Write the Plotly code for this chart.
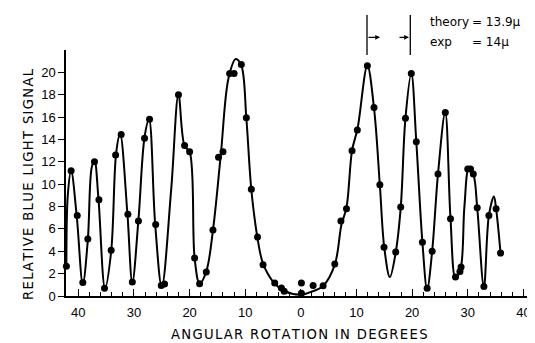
import plotly.graph_objects as go

# measured points (degrees; left side negative), relative blue light signal
pt_x = [-42.15, -41.3, -40.2, -39.2, -38.3, -37.1, -36.3, -35.3, -34.1, -33.3, -32.3,
        -31.1, -30.3, -29.2, -28.1, -27.2, -26.1, -25.1, -24.5, -22.0, -20.9, -20.0,
        -19.1, -18.2, -17.0, -15.8, -14.8, -14.0, -12.8, -12.0, -10.7, -9.8, -8.9,
        -7.8, -6.8, -4.7, -3.5, -3.0, 0.1, 0.1, 2.2, 4.0, 6.1, 7.2, 8.2, 9.2, 10.15,
        11.95, 13.15, 14.2, 14.95, 17.05, 17.95, 18.8, 19.85, 20.75, 21.85, 22.7,
        23.6, 24.65, 25.97, 26.9, 27.8, 28.6, 28.8, 30.0, 30.5, 31.0, 31.7, 32.9,
        33.8, 35.1, 35.9]
pt_y = [2.65, 11.2, 7.2, 1.2, 5.1, 12.0, 8.6, 0.7, 4.1, 12.6, 14.45,
        7.3, 1.25, 6.7, 14.1, 15.8, 6.4, 0.95, 1.07, 18.0, 13.45, 12.9,
        3.4, 1.1, 2.15, 5.9, 12.4, 12.9, 19.9, 19.9, 20.7, 15.95, 9.55,
        5.27, 2.8, 1.16, 0.71, 0.42, 1.16, 0.25, 0.95, 0.92, 2.86, 6.7, 7.8, 13.0, 14.85,
        20.6, 16.85, 9.94, 4.35, 3.93, 7.95, 15.9, 19.9, 13.8, 4.8, 0.7,
        4.0, 10.9, 16.4, 6.9, 1.7, 2.2, 2.6, 11.35, 11.35, 10.9, 7.9, 0.85,
        7.2, 7.8, 3.84]

# hand-drawn smooth curve, read as knots
cv_x = [-42.15, -41.9, -41.3, -40.3, -39.2, -38.3, -37.6, -37.1, -36.4, -35.2, -34.1,
        -33.2, -32.5, -31.2, -30.3, -29.2, -28.1, -27.3, -26.2, -25.0, -23.3, -22.0,
        -20.9, -20.0, -19.1, -18.2, -17.0, -15.8, -14.4, -13.0, -11.7, -10.7, -9.8,
        -8.9, -7.8, -6.8, -4.7, -3.0, 0.0, 2.0, 4.0, 6.1, 7.3, 8.2, 9.2, 10.2, 11.95,
        13.15, 14.2, 15.0, 16.0, 17.05, 17.95, 18.8, 19.85, 20.75, 21.85, 22.7, 23.6,
        24.65, 25.95, 26.9, 27.8, 28.7, 29.4, 30.2, 31.0, 31.7, 32.9, 33.8, 34.7,
        35.1, 35.9]
cv_y = [2.6, 9.0, 11.2, 7.2, 1.1, 5.0, 11.5, 12.1, 8.8, 0.7, 4.0,
        12.8, 14.5, 7.5, 1.2, 6.8, 14.2, 15.8, 6.5, 0.85, 9.6, 18.0,
        13.4, 12.9, 3.4, 1.1, 2.2, 5.9, 12.6, 19.5, 21.2, 20.6, 15.9,
        9.5, 5.2, 2.9, 1.1, 0.45, 0.12, 0.4, 0.9, 2.8, 6.4, 7.9, 13.0, 15.0, 20.6,
        16.8, 9.9, 4.3, 1.7, 3.9, 7.9, 15.9, 19.9, 13.8, 4.8, 0.6, 4.0,
        10.9, 16.4, 6.9, 1.6, 2.4, 8.0, 11.4, 10.9, 7.9, 0.8, 7.2, 8.9,
        7.8, 3.8]

x_tickvals = [-40, -30, -20, -10, 0, 10, 20, 30, 40]
x_ticktext = ["40", "30", "20", "10", "0", "10", "20", "30", "40"]
y_tickvals = [0, 2, 4, 6, 8, 10, 12, 14, 16, 18, 20]
y_ticktext = [str(v) for v in y_tickvals]

x_title = "ANGULAR ROTATION IN DEGREES"
y_title = "RELATIVE BLUE LIGHT SIGNAL"


def spaced(s):
    # widen letter spacing inside words with hair spaces, wider word gaps
    return "\u2009 ".join("\u200a".join(w) for w in s.split(" "))


fig = go.Figure()
fig.add_trace(go.Scatter(x=cv_x, y=cv_y, mode="lines",
                         line=dict(color="black", width=2, shape="spline", smoothing=1.0),
                         hoverinfo="skip", showlegend=False, cliponaxis=False))
fig.add_trace(go.Scatter(x=pt_x, y=pt_y, mode="markers",
                         marker=dict(color="black", size=7),
                         showlegend=False, cliponaxis=False))

# period markers (vertical bars with arrows)
for xv in [11.89, 19.67]:
    fig.add_shape(type="line", xref="x", yref="paper", x0=xv, x1=xv,
                  y0=0.98, y1=1.142, line=dict(color="black", width=1.3))
fig.add_annotation(x=14.23, y=1.0516, xref="x", yref="paper", ax=-13, ay=0,
                   text="", showarrow=True, arrowhead=2, arrowsize=0.8,
                   arrowwidth=1.2, arrowcolor="black")
fig.add_annotation(x=19.44, y=1.0516, xref="x", yref="paper", ax=-11, ay=0,
                   text="", showarrow=True, arrowhead=2, arrowsize=0.8,
                   arrowwidth=1.2, arrowcolor="black")

lab_font = dict(family="DejaVu Sans", size=12, color="black")
fig.add_annotation(x=0.778, y=1.1138, xref="paper", yref="paper", text="theory",
                   showarrow=False, xanchor="left", yanchor="middle", font=lab_font)
fig.add_annotation(x=0.8685, y=1.1138, xref="paper", yref="paper", text="= 13.9μ",
                   showarrow=False, xanchor="left", yanchor="middle", font=lab_font)
fig.add_annotation(x=0.778, y=1.0325, xref="paper", yref="paper", text="exp",
                   showarrow=False, xanchor="left", yanchor="middle", font=lab_font)
fig.add_annotation(x=0.8685, y=1.0325, xref="paper", yref="paper", text="= 14μ",
                   showarrow=False, xanchor="left", yanchor="middle", font=lab_font)

title_font = dict(family="DejaVu Sans", size=13.2, color="black")
fig.add_annotation(x=0.502, y=-0.1585, xref="paper", yref="paper",
                   text=spaced(x_title), showarrow=False,
                   xanchor="center", yanchor="middle", font=title_font)
fig.add_annotation(x=-0.082, y=0.455, xref="paper", yref="paper",
                   text=spaced(y_title), showarrow=False, textangle=-90,
                   xanchor="center", yanchor="middle", font=title_font)

minor_vals = [v for v in range(-40, 41, 2) if v % 10 != 0]

fig.update_layout(
    width=535, height=343,
    margin=dict(l=58, r=12, t=42, b=55),
    plot_bgcolor="white", paper_bgcolor="white",
    xaxis=dict(range=[-42.22, 41.37], showgrid=False, zeroline=False,
               showline=True, linecolor="black", linewidth=1.5,
               ticks="inside", ticklen=7, tickwidth=1.3, tickcolor="black",
               tickmode="array", tickvals=x_tickvals, ticktext=x_ticktext,
               ticklabelstandoff=4,
               tickfont=dict(family="Liberation Sans", size=13, color="black"),
               minor=dict(tickmode="array", tickvals=minor_vals, ticks="inside",
                          ticklen=4, tickwidth=1.2, tickcolor="black", showgrid=False)),
    yaxis=dict(range=[0, 22], showgrid=False, zeroline=False,
               showline=True, linecolor="black", linewidth=1.5,
               ticks="outside", ticklen=6, tickwidth=1.3, tickcolor="black",
               tickmode="array", tickvals=y_tickvals, ticktext=y_ticktext,
               tickfont=dict(family="Liberation Sans", size=13, color="black")),
)

fig.write_html("out.html")
